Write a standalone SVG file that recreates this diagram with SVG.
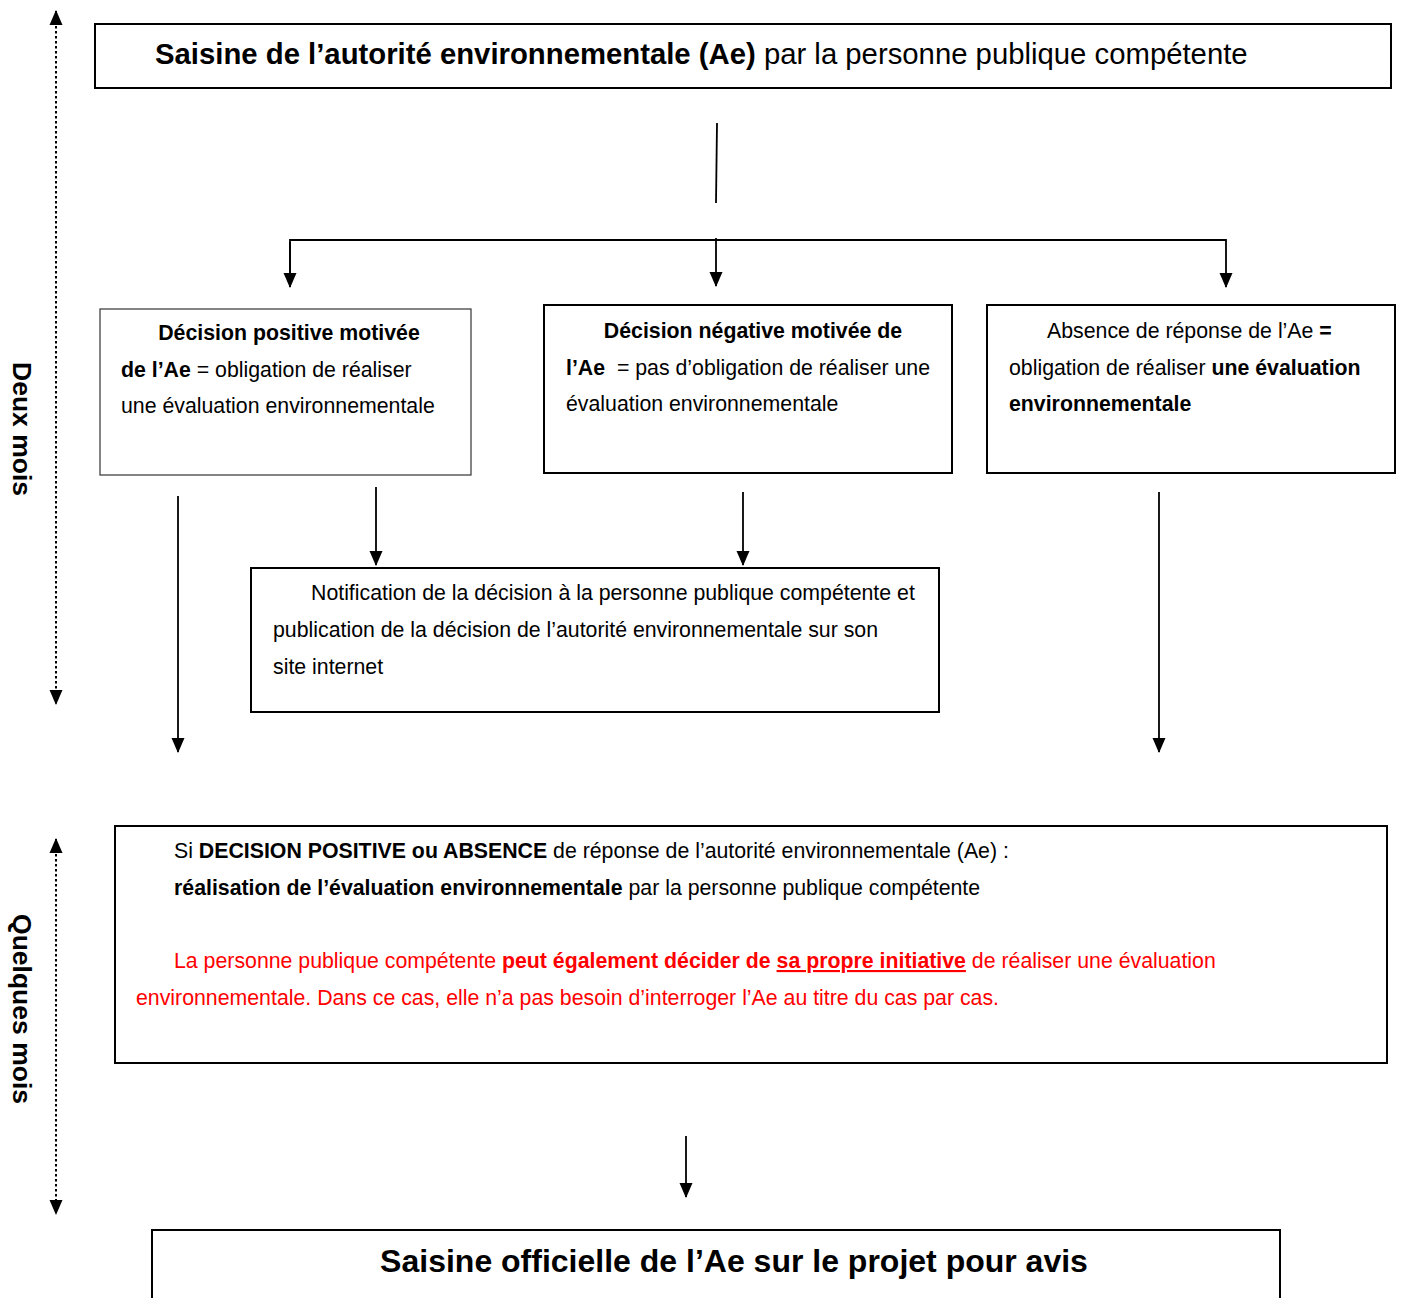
<svg xmlns="http://www.w3.org/2000/svg" width="1401" height="1298" viewBox="0 0 1401 1298">
<style>
text{font-family:"Liberation Sans",Arial,sans-serif;fill:#000}
.t20{font-size:21.3px}
.b{font-weight:bold}
.box{fill:#fff;stroke:#000;stroke-width:2}
.thin{fill:#fff;stroke:#333;stroke-width:1.2}
.con{fill:none;stroke:#000;stroke-width:1.8}
.dot{fill:none;stroke:#000;stroke-width:2;stroke-dasharray:2.5 2.5}
.red{fill:#f00}
</style>
<defs>
<marker id="ah" markerUnits="userSpaceOnUse" markerWidth="16" markerHeight="16" viewBox="0 0 16 16" refX="14" refY="8" orient="auto-start-reverse">
<path d="M0,1.5 L15,8 L0,14.5 Z" fill="#000"/>
</marker>
</defs>
<rect width="1401" height="1298" fill="#fff"/>

<g id="timeline">
<line class="dot" x1="56" y1="11" x2="56" y2="704" marker-start="url(#ah)" marker-end="url(#ah)"/>
<text class="b" font-size="26.5" text-anchor="middle" transform="translate(13,429) rotate(90)">Deux mois</text>
<line class="dot" x1="56" y1="839" x2="56" y2="1214" marker-start="url(#ah)" marker-end="url(#ah)"/>
<text class="b" font-size="26.5" text-anchor="middle" transform="translate(13,1009) rotate(90)">Quelques mois</text>
</g>

<g id="connectors">
<line class="con" x1="717" y1="123" x2="716" y2="203"/>
<polyline class="con" points="290,287 290,240 1226,240 1226,287" marker-end="url(#ah)"/>
<line class="con" x1="290" y1="242" x2="290" y2="287" marker-end="url(#ah)"/>
<line class="con" x1="716" y1="238" x2="716" y2="286" marker-end="url(#ah)"/>
<line class="con" x1="178" y1="496" x2="178" y2="752" marker-end="url(#ah)"/>
<line class="con" x1="376" y1="487" x2="376" y2="565" marker-end="url(#ah)"/>
<line class="con" x1="743" y1="492" x2="743" y2="565" marker-end="url(#ah)"/>
<line class="con" x1="1159" y1="492" x2="1159" y2="752" marker-end="url(#ah)"/>
<line class="con" x1="686" y1="1136" x2="686" y2="1197" marker-end="url(#ah)"/>
</g>

<g id="saisine">
<rect class="box" x="95" y="24" width="1296" height="64"/>
<text x="155" y="64" font-size="29.3"><tspan class="b">Saisine de l’autorité environnementale (Ae)</tspan> par la personne publique compétente</text>
</g>

<g id="decision-positive">
<rect class="thin" x="100" y="309" width="371" height="166"/>
<text class="t20 b" x="289" y="340" text-anchor="middle">Décision positive motivée</text>
<text class="t20" x="121" y="377"><tspan class="b">de l’Ae</tspan> = obligation de réaliser</text>
<text class="t20" x="121" y="413">une évaluation environnementale</text>
</g>

<g id="decision-negative">
<rect class="box" x="544" y="305" width="408" height="168"/>
<text class="t20 b" x="753" y="338" text-anchor="middle">Décision négative motivée de</text>
<text class="t20" x="566" y="375" xml:space="preserve"><tspan class="b">l’Ae</tspan>  = pas d’obligation de réaliser une</text>
<text class="t20" x="566" y="411">évaluation environnementale</text>
</g>

<g id="absence">
<rect class="box" x="987" y="305" width="408" height="168"/>
<text class="t20" x="1047" y="338">Absence de réponse de l’Ae <tspan class="b">=</tspan></text>
<text class="t20" x="1009" y="375">obligation de réaliser <tspan class="b">une évaluation</tspan></text>
<text class="t20 b" x="1009" y="411">environnementale</text>
</g>

<g id="notification">
<rect class="box" x="251" y="568" width="688" height="144"/>
<text class="t20" x="311" y="600">Notification de la décision à la personne publique compétente et</text>
<text class="t20" x="273" y="637">publication de la décision de l’autorité environnementale sur son</text>
<text class="t20" x="273" y="674">site internet</text>
</g>

<g id="realisation">
<rect class="box" x="115" y="826" width="1272" height="237"/>
<text class="t20" x="174" y="858">Si <tspan class="b">DECISION POSITIVE ou ABSENCE</tspan> de réponse de l’autorité environnementale (Ae) :</text>
<text class="t20" x="174" y="895"><tspan class="b">réalisation de l’évaluation environnementale</tspan> par la personne publique compétente</text>
<text class="t20 red" x="174" y="968">La personne publique compétente <tspan class="b">peut également décider de </tspan><tspan class="b" text-decoration="underline">sa propre initiative</tspan> de réaliser une évaluation</text>
<text class="t20 red" x="136" y="1005">environnementale. Dans ce cas, elle n’a pas besoin d’interroger l’Ae au titre du cas par cas.</text>
</g>

<g id="saisine-officielle">
<rect class="box" x="152" y="1230" width="1128" height="90"/>
<text class="b" font-size="32" x="734" y="1272" text-anchor="middle">Saisine officielle de l’Ae sur le projet pour avis</text>
</g>
</svg>
